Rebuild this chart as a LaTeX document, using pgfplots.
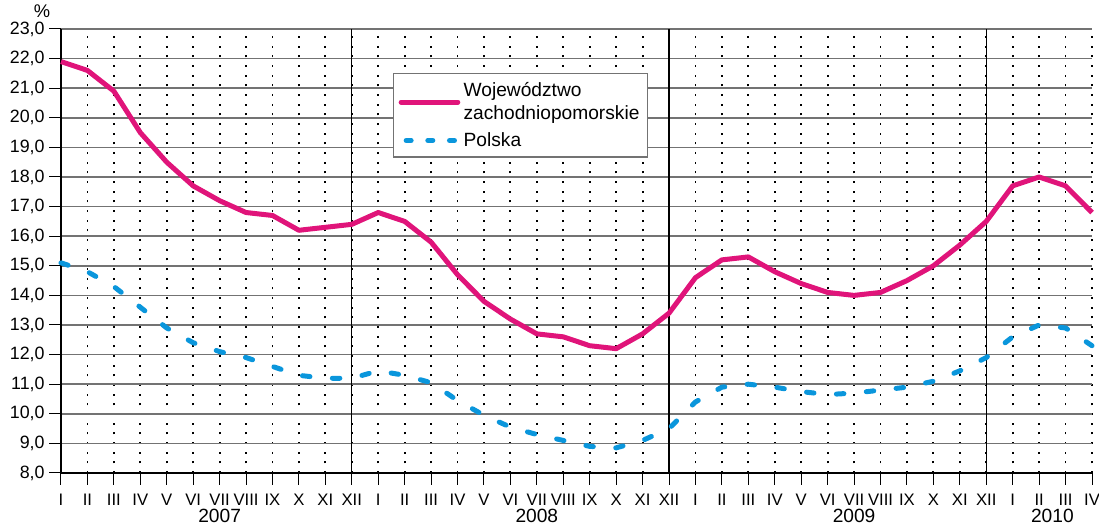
\documentclass[border=0pt]{standalone}
\usepackage{fontspec}
\setmainfont{Liberation Sans}
\usepackage{pgfplots}
\pgfplotsset{compat=1.18}
\definecolor{wojred}{RGB}{224,20,122}
\definecolor{plblue}{RGB}{10,150,220}
\begin{document}
\fontsize{11}{13}\selectfont
\begin{tikzpicture}
\useasboundingbox (0,0) rectangle (659.4pt,315.6pt);
\begin{axis}[
  at={(36.6pt,31.8pt)}, anchor=south west,
  scale only axis, width=618.6pt, height=266.4pt,
  xmin=0, xmax=39, ymin=8, ymax=23,
  clip=false,
  axis x line*=bottom, axis y line*=left,
  axis line style={black, line width=0.8pt},
  xtick={0,...,39},
  xticklabels={I,II,III,IV,V,VI,VII,VIII,IX,X,XI,XII,I,II,III,IV,V,VI,VII,VIII,IX,X,XI,XII,I,II,III,IV,V,VI,VII,VIII,IX,X,XI,XII,I,II,III,IV},
  ytick={8,...,23},
  yticklabel style={font=\fontsize{10.7}{13}\selectfont, xshift=1pt, /pgf/number format/.cd, fixed, fixed zerofill, precision=1, use comma, assume math mode=true},
  xticklabel style={font=\fontsize{10}{12}\selectfont, yshift=-1.5pt},
  tick align=outside, major tick length=7pt,
  tick style={black, line width=0.6pt},
  xmajorgrids, ymajorgrids,
  major x grid style={black, line width=1.1pt, dash pattern=on 1.1pt off 4.7pt},
  major y grid style={black!55, line width=0.9pt},
  extra x ticks={11,23,35}, extra x tick labels={},
  extra x tick style={grid=major, major x grid style={black, solid, line width=0.8pt}},
  legend style={at={(0.322,0.901)}, anchor=north west, draw=black!55, line width=0.8pt, fill=white,
    cells={align=left, anchor=west}, font=\fontsize{11.5}{14}\selectfont, inner xsep=3pt, inner ysep=3pt, row sep=2pt},
  legend image code/.code={\draw[#1] (0pt,0pt) -- (34pt,0pt);},
]
\addlegendimage{wojred, line width=3pt, line cap=round}
\addlegendentry{Województwo\\zachodniopomorskie}
\addlegendimage{plblue, line width=3pt, line cap=round, dash pattern=on 3pt off 10pt, dash phase=-3pt}
\addlegendentry{Polska}
\addplot[forget plot, wojred, line width=3pt, line join=round] coordinates {
(0,21.9) (1,21.6) (2,20.9) (3,19.5) (4,18.5) (5,17.7) (6,17.2) (7,16.8) (8,16.7) (9,16.2) (10,16.3) (11,16.4)
(12,16.8) (13,16.5) (14,15.8) (15,14.7) (16,13.8) (17,13.2) (18,12.7) (19,12.6) (20,12.3) (21,12.2) (22,12.7) (23,13.4)
(24,14.6) (25,15.2) (26,15.3) (27,14.8) (28,14.4) (29,14.1) (30,14.0) (31,14.1) (32,14.5) (33,15.0) (34,15.7) (35,16.5)
(36,17.7) (37,18.0) (38,17.7) (39,16.8)
};
\addplot[forget plot, plblue, line width=3pt, line cap=round, dash pattern=on 4.5pt off 13.5pt] coordinates {
(0,15.1) (1,14.8) (2,14.3) (3,13.6) (4,12.9) (5,12.4) (6,12.1) (7,11.9) (8,11.6) (9,11.3) (10,11.2) (11,11.2)
(12,11.45) (13,11.3) (14,11.05) (15,10.45) (16,9.95) (17,9.55) (18,9.3) (19,9.1) (20,8.9) (21,8.85) (22,9.1) (23,9.5)
(24,10.4) (25,10.9) (26,11.0) (27,10.9) (28,10.75) (29,10.65) (30,10.7) (31,10.8) (32,10.9) (33,11.1) (34,11.45) (35,11.9)
(36,12.6) (37,13.0) (38,12.9) (39,12.3)
};
\node[font=\fontsize{11.5}{13}\selectfont] at (axis cs:6,8) [yshift=-26pt] {2007};
\node[font=\fontsize{11.5}{13}\selectfont] at (axis cs:18,8) [yshift=-26pt] {2008};
\node[font=\fontsize{11.5}{13}\selectfont] at (axis cs:30,8) [yshift=-26pt] {2009};
\node[font=\fontsize{11.5}{13}\selectfont] at (axis cs:37.5,8) [yshift=-26pt] {2010};
\node[font=\fontsize{11}{13}\selectfont] at (rel axis cs:0,1) [xshift=-11.4pt, yshift=10.5pt] {\%};
\end{axis}
\end{tikzpicture}
\end{document}
